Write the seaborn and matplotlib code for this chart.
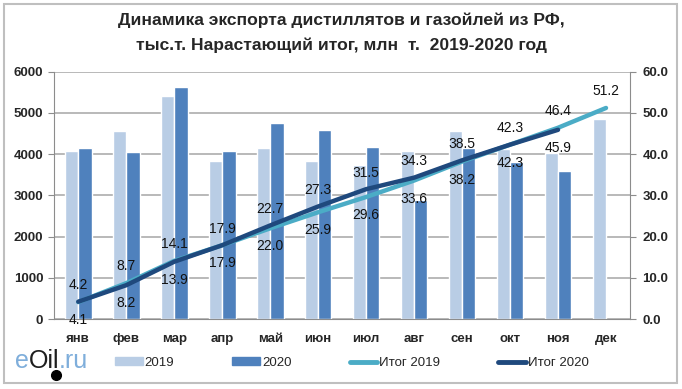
import numpy as np
import pandas as pd
import matplotlib.pyplot as plt
import seaborn as sns
from matplotlib.patches import Patch, Rectangle
from matplotlib.lines import Line2D

months = ['янв', 'фев', 'мар', 'апр', 'май', 'июн', 'июл', 'авг', 'сен', 'окт', 'ноя', 'дек']
export_2019 = [4065, 4565, 5420, 3830, 4137, 3825, 3730, 4073, 4565, 4120, 4030, 4855]
export_2020 = [4160, 4040, 5637, 4073, 4766, 4589, 4185, 2880, 4150, 3800, 3580]
total_2019 = [4.1, 8.7, 14.1, 17.9, 22.0, 25.9, 29.6, 33.6, 38.2, 42.3, 46.4, 51.2]
total_2020 = [4.2, 8.2, 13.9, 17.9, 22.7, 27.3, 31.5, 34.3, 38.5, 42.3, 45.9]

c19, c20 = '#B9CDE5', '#4F81BD'
l19, l20 = '#4BACC6', '#1F497D'
grey = '#8C8C8C'

sns.set_style('white')
plt.rcParams['font.family'] = ['Liberation Sans', 'DejaVu Sans']

n = len(months)
bars = pd.DataFrame({
    'month': months * 2,
    'year': ['2019'] * n + ['2020'] * n,
    'value': export_2019 + export_2020 + [np.nan] * (n - len(export_2020)),
})
lines = pd.DataFrame({
    'pos': list(range(n)) + list(range(len(total_2020))),
    'series': ['Итог 2019'] * n + ['Итог 2020'] * len(total_2020),
    'value': total_2019 + total_2020,
})

fig = plt.figure(figsize=(6.82, 3.89), dpi=100)
ax = fig.add_axes([54.3 / 682, 1 - 319 / 389, (630 - 54.3) / 682, (319 - 71.7) / 389])

sns.barplot(data=bars, x='month', y='value', hue='year', order=months,
            hue_order=['2019', '2020'], palette=[c19, c20], saturation=1,
            width=0.555, gap=0, errorbar=None, legend=False, ax=ax)
ax.set_xlim(-0.5, n - 0.5)
ax.set_ylim(0, 6000)
ax.set_yticks(range(0, 6001, 1000))
ax.set_axisbelow(True)
ax.yaxis.grid(True, color='#A6A6A6', lw=1.1)
ax.set_xlabel('')
ax.set_ylabel('')
for s in ['left', 'bottom']:
    ax.spines[s].set_color(grey)
ax.spines['top'].set_visible(False)
ax.spines['right'].set_visible(False)
ax.set_xticks(np.arange(-0.5, n, 1), minor=True)
ax.tick_params(axis='x', which='major', length=0, pad=10)
ax.tick_params(axis='x', which='minor', length=5, color=grey, direction='out')
ax.tick_params(axis='y', length=4, color=grey, direction='out', left=True, pad=4)
for t in ax.get_xticklabels() + ax.get_yticklabels():
    t.set_fontsize(9.5)
    t.set_fontweight('bold')

ax2 = ax.twinx()
sns.lineplot(data=lines, x='pos', y='value', hue='series',
             hue_order=['Итог 2019', 'Итог 2020'], palette=[l19, l20],
             linewidth=3.2, legend=False, sort=False, ax=ax2)
for ln in ax2.lines:
    ln.set_solid_capstyle('round')
ax2.set_ylim(0, 60)
ax2.set_yticks(range(0, 61, 10))
ax2.set_yticklabels([f'{v:.1f}' for v in range(0, 61, 10)])
ax2.set_xlim(-0.5, n - 0.5)
ax2.set_ylabel('')
ax2.grid(False)
ax2.spines['right'].set_color(grey)
for s in ['left', 'top', 'bottom']:
    ax2.spines[s].set_visible(False)
ax2.tick_params(axis='y', length=4, color=grey, direction='out', right=True, pad=5)
for t in ax2.get_yticklabels():
    t.set_fontsize(9.5)
    t.set_fontweight('bold')

# value labels: higher value above the lines, lower below
for i in range(n):
    pair = [total_2019[i]]
    if i < len(total_2020):
        pair.append(total_2020[i])
    hi, lo = max(pair), min(pair)
    ax2.annotate(f'{hi:.1f}', (i, hi), xytext=(0, 12), textcoords='offset points',
                 ha='center', va='center', fontsize=10, color='#111111')
    if len(pair) == 2:
        ax2.annotate(f'{lo:.1f}', (i, lo), xytext=(0, -13), textcoords='offset points',
                     ha='center', va='center', fontsize=10, color='#111111')

fig.text(0.5, 1 - 20 / 389, 'Динамика экспорта дистиллятов и газойлей из РФ,',
         ha='center', va='center', fontsize=12.6, fontweight='bold')
fig.text(0.5, 1 - 45 / 389, 'тыс.т. Нарастающий итог, млн  т.  2019-2020 год',
         ha='center', va='center', fontsize=12.6, fontweight='bold')

handles = [Patch(color=c19), Patch(color=c20),
           Line2D([], [], color=l19, lw=3.5, solid_capstyle='round'),
           Line2D([], [], color=l20, lw=3.5, solid_capstyle='round')]
fig.legend(handles, ['2019', '2020', 'Итог 2019', 'Итог 2020'], ncol=4,
           loc='center', bbox_to_anchor=(352 / 682, 1 - 363 / 389), frameon=False,
           fontsize=9.5, handlelength=2.1, handleheight=0.55, handletextpad=0.15,
           columnspacing=4.4)

# eOil.ru logo
logo_y = 1 - 361 / 389
t1 = fig.text(15 / 682, logo_y, 'e', color='#7FAEDB', fontsize=18, va='center')
t2 = fig.text(0, 0, 'Oil', color='#1E1E1E', fontsize=18, va='center')
t3 = fig.text(0, 0, '.ru', color='#7FAEDB', fontsize=18, va='center')
fig.canvas.draw()
r = fig.canvas.get_renderer()
x = t1.get_window_extent(r).x1
t2.set_position((x / 682, logo_y))
x2 = t2.get_window_extent(r).x1
t3.set_position((x2 / 682 - 1 / 682, logo_y))
fig.add_artist(Line2D([(x2 - 3) / 682], [1 - 375 / 389], marker='o', ms=7,
                      color='black', transform=fig.transFigure))

fig.patches.append(Rectangle((4 / 682, 6 / 389), 673 / 682, 379 / 389,
                             transform=fig.transFigure, fill=False,
                             edgecolor='#BFBFBF', lw=1.5))

fig.savefig('out.png', dpi=100)
